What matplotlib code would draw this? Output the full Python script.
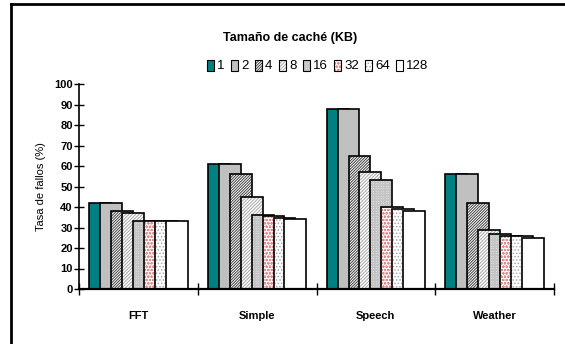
import numpy as np
import matplotlib
matplotlib.use("Agg")
import matplotlib.pyplot as plt
from matplotlib.lines import Line2D
from matplotlib.patches import Rectangle

programs = ["FFT", "Simple", "Speech", "Weather"]
cache_kb = ["1", "2", "4", "8", "16", "32", "64", "128"]
miss_rate = {
    "1":   [42, 61, 88, 56],
    "2":   [42, 61, 88, 56],
    "4":   [38, 56, 65, 42],
    "8":   [37, 45, 57, 29],
    "16":  [33, 36, 53, 27],
    "32":  [33, 35.5, 40, 26],
    "64":  [33, 34.5, 39, 26],
    "128": [33, 34, 38, 25],
}

# fill, hatch, hatch colour for each cache size
styles = [
    ("#008080", None, None),
    ("#c0c0c0", None, None),
    ("white", "/" * 12, "#404040"),
    ("white", "/" * 10, "#a8a8a8"),
    ("white", "+" * 10, "#c4c4c4"),
    ("white", "o" * 5, "#e09090"),
    ("white", "." * 5, "#a8a8a8"),
    ("white", None, None),
]

plt.rcParams["font.family"] = ["Liberation Sans Narrow", "Liberation Sans", "DejaVu Sans"]
plt.rcParams["hatch.linewidth"] = 0.7

fig = plt.figure(figsize=(5.65, 3.44), dpi=100)
ax = fig.add_axes([79 / 565, 1 - 289 / 344, (554 - 79) / 565, (289 - 84) / 344])

x = np.arange(len(programs))
step = 0.092
width = 2 * step
for i, kb in enumerate(cache_kb):
    face, hatch, hcol = styles[i]
    left = x - 4.5 * step + i * step
    vals = miss_rate[kb]
    if hatch:
        plt.rcParams["hatch.color"] = hcol
        ax.bar(left, vals, width=width, align="edge", color=face, hatch=hatch,
               edgecolor=hcol, linewidth=0, zorder=2 + i)
        ax.bar(left, vals, width=width, align="edge", fill=False,
               edgecolor="black", linewidth=1.2, zorder=2 + i)
    else:
        ax.bar(left, vals, width=width, align="edge", color=face,
               edgecolor="black", linewidth=1.2, zorder=2 + i)

ax.set_xlim(-0.5, 3.5)
ax.set_ylim(0, 100)
ax.set_yticks(range(0, 101, 10))
ax.set_yticklabels([str(v) for v in range(0, 101, 10)], fontsize=8, fontweight="bold")
ax.set_xticks(x)
ax.set_xticklabels(programs, fontsize=8, fontweight="bold")
ax.set_xticks(np.arange(-0.5, 3.6, 1), minor=True)
ax.tick_params(axis="x", which="major", length=0, pad=16)
ax.tick_params(axis="x", which="minor", direction="inout", length=8, width=1)
ax.tick_params(axis="y", direction="inout", length=7, width=1, pad=1)
for side in ["top", "right"]:
    ax.spines[side].set_visible(False)
ax.spines["left"].set_linewidth(1.2)
ax.spines["bottom"].set_linewidth(1.6)
ax.spines["left"].set_zorder(20)
ax.spines["bottom"].set_zorder(20)
ax.set_ylabel("Tasa de fallos (%)", fontsize=8, labelpad=6,
              family=["Liberation Sans", "DejaVu Sans"])

fig.text(290 / 565, 1 - 38 / 344, "Tamaño de caché (KB)", ha="center", va="center",
         fontsize=9, fontweight="bold")

# legend row along the top
lx = 207
for i, kb in enumerate(cache_kb):
    face, hatch, hcol = styles[i]
    if hatch:
        plt.rcParams["hatch.color"] = hcol
        fig.add_artist(Rectangle((lx / 565, 1 - 71 / 344), 7 / 565, 11 / 344,
                                 transform=fig.transFigure, facecolor=face, hatch=hatch,
                                 edgecolor=hcol, linewidth=0))
        fig.add_artist(Rectangle((lx / 565, 1 - 71 / 344), 7 / 565, 11 / 344,
                                 transform=fig.transFigure, fill=False,
                                 edgecolor="black", linewidth=0.8))
    else:
        fig.add_artist(Rectangle((lx / 565, 1 - 71 / 344), 7 / 565, 11 / 344,
                                 transform=fig.transFigure, facecolor=face,
                                 edgecolor="black", linewidth=0.8))
    fig.text((lx + 10) / 565, 1 - 66 / 344, kb, ha="left", va="center", fontsize=9.5)
    lx += 10 + {1: 8, 2: 15, 3: 21}[len(kb)] + 6

# outer frame edges
fig.add_artist(Line2D([11 / 565, 11 / 565], [0, 1 - 4 / 344], color="black", linewidth=2))
fig.add_artist(Line2D([11 / 565, 1], [1 - 4 / 344, 1 - 4 / 344], color="black", linewidth=2))

fig.savefig("out.png", dpi=100)
